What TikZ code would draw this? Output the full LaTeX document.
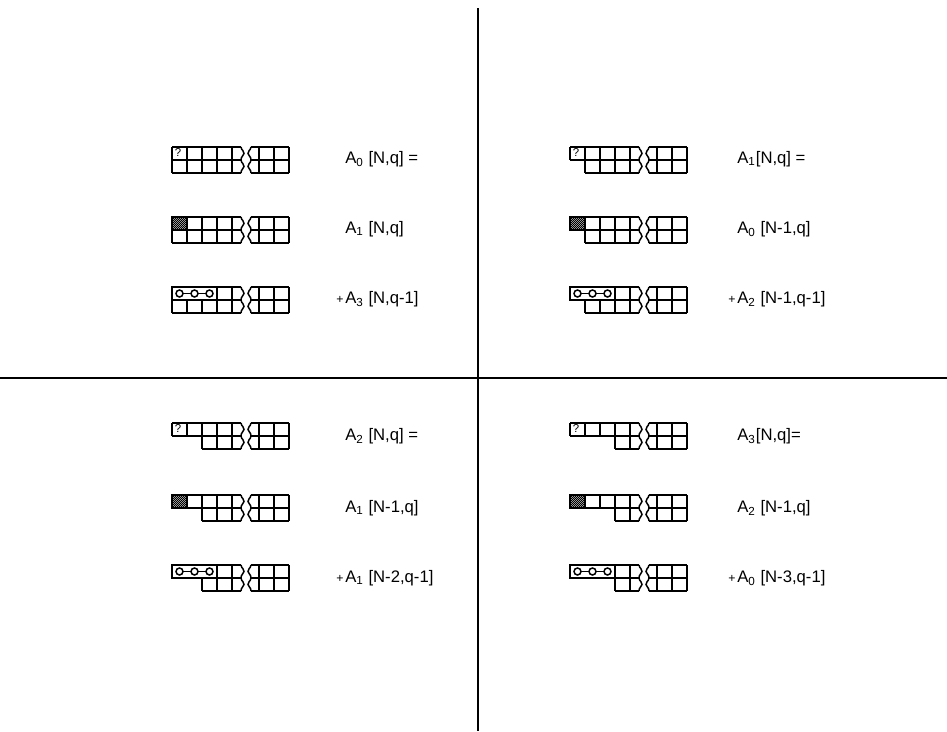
\documentclass[tikz,border=0pt]{standalone}
\usepackage{fontspec}
\setmainfont{Liberation Sans}
\usetikzlibrary{positioning}
\tikzset{
  cellline/.style={line width=0.85pt, line join=miter},
  axisline/.style={line width=1.1pt},
  rel/.style={anchor=west, inner sep=0pt, font=\fontsize{9.5}{11}\selectfont},
  hatchline/.style={line width=0.45pt},
  qmark/.style={anchor=north west, inner sep=0pt, font=\fontsize{6.5}{7}\selectfont},
}
\newcommand{\plus}{\llap{\fontsize{7}{8}\selectfont+\kern1pt}}
% strip of cells: x of left end, y of top edge, cells the lower row is short by
\newcommand{\stripgrid}[3]{%
  \begin{scope}[shift={(#1,#2)}, cellline]
    \draw (0,0) -- (69,0) (0,13) -- (69,13) (15*#3,26) -- (69,26);
    \foreach \i in {0,...,4} \draw (15*\i,0) -- (15*\i,13);
    \foreach \i in {#3,...,4} \draw (15*\i,13) -- (15*\i,26);
    \foreach \yy in {0,13} {
      \draw (69,\yy) .. controls (69.5,\yy+4) and (72.5,\yy+3.5) .. (72,\yy+6.5)
                     .. controls (71.5,\yy+9.5) and (69,\yy+9) .. (69,\yy+13);
      \draw (79,\yy) .. controls (78.5,\yy+4) and (75.5,\yy+3.5) .. (76,\yy+6.5)
                     .. controls (76.5,\yy+9.5) and (79,\yy+9) .. (79,\yy+13);
    }
    \draw (79,0) -- (117,0) (79,13) -- (117,13) (79,26) -- (117,26);
    \foreach \i in {87,102,117} \draw (\i,0) -- (\i,26);
  \end{scope}}
\newcommand{\qcell}[3]{\node[qmark] (#1) at (#2+2.5,#3+1.5) {?};}
\newcommand{\hatchcell}[2]{%
  \begin{scope}
    \clip (#1,#2) rectangle (#1+15,#2+13);
    \foreach \d in {-15,-13,...,15} \draw[hatchline] (#1+\d,#2+14) -- (#1+\d+15,#2-1);
  \end{scope}
  \draw[cellline] (#1,#2) rectangle (#1+15,#2+13);}
\newcommand{\trimer}[2]{%
  \draw[cellline, fill=white] (#1,#2) rectangle (#1+45,#2+13);
  \draw[cellline] (#1+7.5,#2+6.5) -- (#1+37.5,#2+6.5);
  \foreach \c in {7.5,22.5,37.5} \draw[cellline, fill=white] (#1+\c,#2+6.5) circle[radius=3.5];}

\begin{document}
\begin{tikzpicture}[x=0.02cm, y=-0.02cm]
  \useasboundingbox (0,0) rectangle (947,731);
  \coordinate (vtop) at (478,8);
  \coordinate (vbot) at (478,731);
  \coordinate (hleft) at (0,378);
  \coordinate (hright) at (947,378);
  \draw[axisline] (vtop) -- (vbot);
  \draw[axisline] (hleft) -- (hright);

  % upper left
  \stripgrid{172}{147}{0} \qcell{q0}{172}{147}
  \stripgrid{172}{217}{0} \hatchcell{172}{217}
  \stripgrid{172}{287}{0} \trimer{172}{287}
  \node[rel] (a0) at (345,159) {A\textsubscript{0} [N,q] =};
  \node[rel] (a0m) at (345,229) {A\textsubscript{1} [N,q]};
  \node[rel] (a0t) at (345,299) {\plus A\textsubscript{3} [N,q-1]};

  % upper right
  \stripgrid{570}{147}{1} \qcell{q1}{570}{147}
  \stripgrid{570}{217}{1} \hatchcell{570}{217}
  \stripgrid{570}{287}{1} \trimer{570}{287}
  \node[rel] (a1) at (737,159) {A\textsubscript{1}[N,q] =};
  \node[rel] (a1m) at (737,229) {A\textsubscript{0} [N-1,q]};
  \node[rel] (a1t) at (737,299) {\plus A\textsubscript{2} [N-1,q-1]};

  % lower left
  \stripgrid{172}{423}{2} \qcell{q2}{172}{423}
  \stripgrid{172}{495}{2} \hatchcell{172}{495}
  \stripgrid{172}{565}{2} \trimer{172}{565}
  \node[rel] (a2) at (345,436) {A\textsubscript{2} [N,q] =};
  \node[rel] (a2m) at (345,508) {A\textsubscript{1} [N-1,q]};
  \node[rel] (a2t) at (345,578) {\plus A\textsubscript{1} [N-2,q-1]};

  % lower right
  \stripgrid{570}{423}{3} \qcell{q3}{570}{423}
  \stripgrid{570}{495}{3} \hatchcell{570}{495}
  \stripgrid{570}{565}{3} \trimer{570}{565}
  \node[rel] (a3) at (737,436) {A\textsubscript{3}[N,q]=};
  \node[rel] (a3m) at (737,508) {A\textsubscript{2} [N-1,q]};
  \node[rel] (a3t) at (737,578) {\plus A\textsubscript{0} [N-3,q-1]};
\end{tikzpicture}
\end{document}
